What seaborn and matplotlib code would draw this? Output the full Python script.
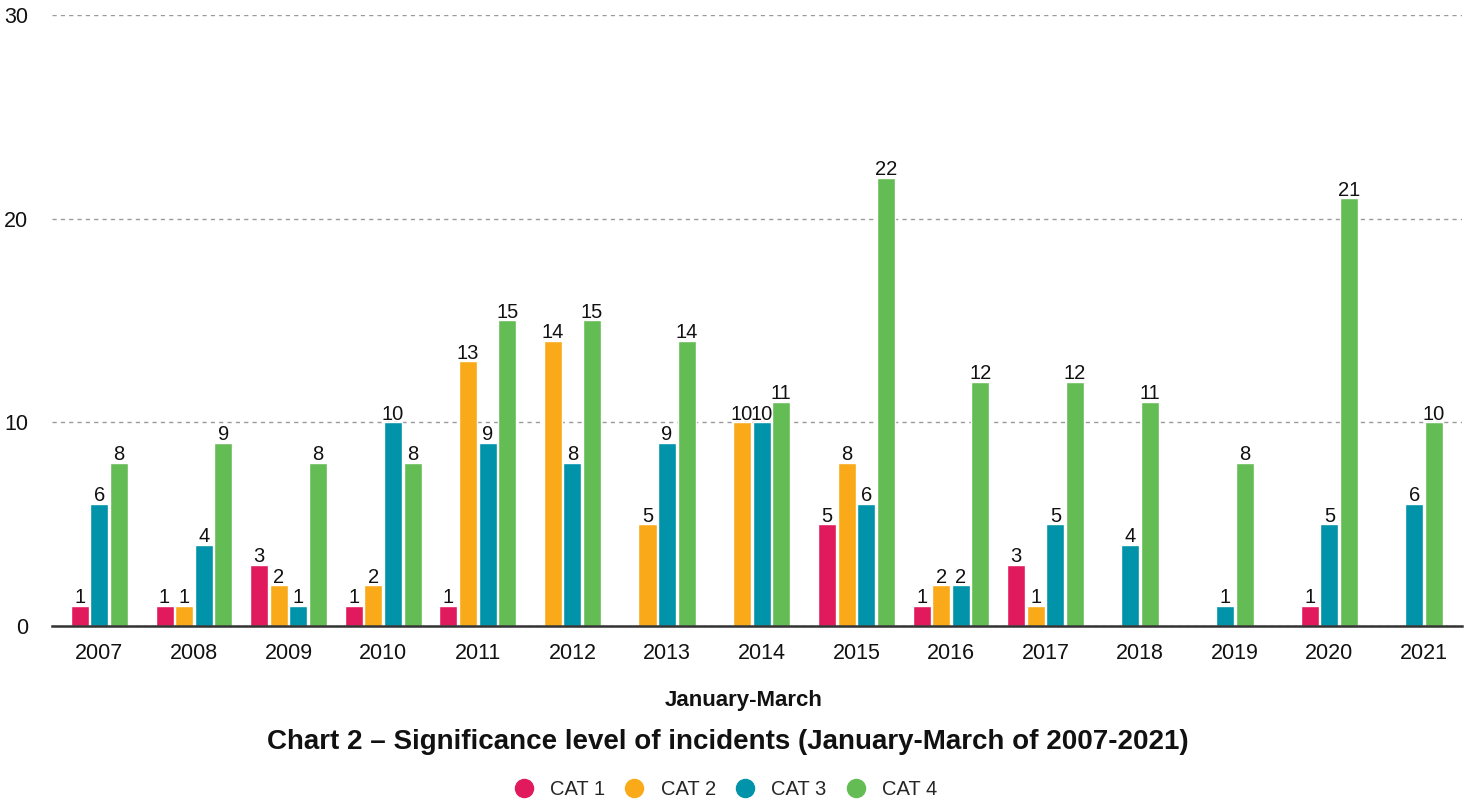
import numpy as np
import pandas as pd
import matplotlib
matplotlib.use("Agg")
import matplotlib.pyplot as plt
from matplotlib.lines import Line2D
import seaborn as sns

# Incident counts per significance category, January-March of each year
years = [2007, 2008, 2009, 2010, 2011, 2012, 2013, 2014, 2015, 2016, 2017, 2018, 2019, 2020, 2021]
categories = ["CAT 1", "CAT 2", "CAT 3", "CAT 4"]
cat1 = [1, 1, 3, 1, 1, 0, 0, 0, 5, 1, 3, 0, 0, 1, 0]
cat2 = [0, 1, 2, 2, 13, 14, 5, 10, 8, 2, 1, 0, 0, 0, 0]
cat3 = [6, 4, 1, 10, 9, 8, 9, 10, 6, 2, 5, 4, 1, 5, 6]
cat4 = [8, 9, 8, 8, 15, 15, 14, 11, 22, 12, 12, 11, 8, 21, 10]
colors = ["#E01A5C", "#FAAA19", "#0093AA", "#64BD54"]
y_ticks = [0, 10, 20, 30]

sns.set_theme(style="white")
plt.rcParams["font.family"] = ["Liberation Sans", "DejaVu Sans"]

# Long-form table; empty categories are left out and each year's bars are
# centred on the year slot.
pitch = 0.207
rows = []
series = [cat1, cat2, cat3, cat4]
for i, year in enumerate(years):
    present = [(c, s[i]) for c, s in zip(categories, series) if s[i] > 0]
    n = len(present)
    for k, (c, v) in enumerate(present):
        rows.append({"pos": i + (k - (n - 1) / 2) * pitch, "value": v, "cat": c})
df = pd.DataFrame(rows)

fig = plt.figure(figsize=(14.73, 8.01), dpi=100)
ax = fig.add_axes([0.0353, 0.2185, 0.9572, 0.7628])

sns.barplot(data=df, x="pos", y="value", hue="cat", hue_order=categories,
            palette=colors, native_scale=True, dodge=False, width=0.92,
            errorbar=None, legend=False, saturation=1, ax=ax)

for cont in ax.containers:
    ax.bar_label(cont, padding=-1, fontsize=14.5, color="#111111")

ax.set_xlim(-0.5, 14.4)
ax.set_ylim(0, 30)
ax.set_xticks(range(len(years)))
ax.set_xticklabels([str(y) for y in years], fontsize=15.5, color="#111111")
ax.set_yticks(y_ticks)
ax.set_yticklabels([str(t) for t in y_ticks], fontsize=15.5, color="#111111")
ax.tick_params(axis="x", length=0, pad=12)
ax.tick_params(axis="y", length=0, pad=17)

ax.yaxis.grid(True, linestyle=(0, (3, 3)), color="#9a9a9a", linewidth=1)
ax.xaxis.grid(False)
ax.set_axisbelow(True)
for side in ["top", "right", "left"]:
    ax.spines[side].set_visible(False)
ax.spines["bottom"].set_color("#333333")
ax.spines["bottom"].set_linewidth(1.8)
ax.spines["bottom"].set_zorder(5)

ax.set_xlabel("January-March", fontsize=16, fontweight="bold", color="#111111")
ax.xaxis.set_label_coords(0.4905, -0.105)
ax.set_ylabel("")

fig.text(0.494, 0.0737, "Chart 2 \u2013 Significance level of incidents (January-March of 2007-2021)",
         ha="center", va="center", fontsize=20, fontweight="bold", color="#111111")

handles = [Line2D([0], [0], marker="o", linestyle="", markersize=13,
                  markerfacecolor=c, markeredgecolor=c) for c in colors]
fig.legend(handles, categories, loc="center", bbox_to_anchor=(0.4925, 0.014),
           ncol=4, frameon=False, fontsize=14.5, handletextpad=0.8,
           columnspacing=0.95, handlelength=1.0)

fig.savefig("out.png", dpi=100)
